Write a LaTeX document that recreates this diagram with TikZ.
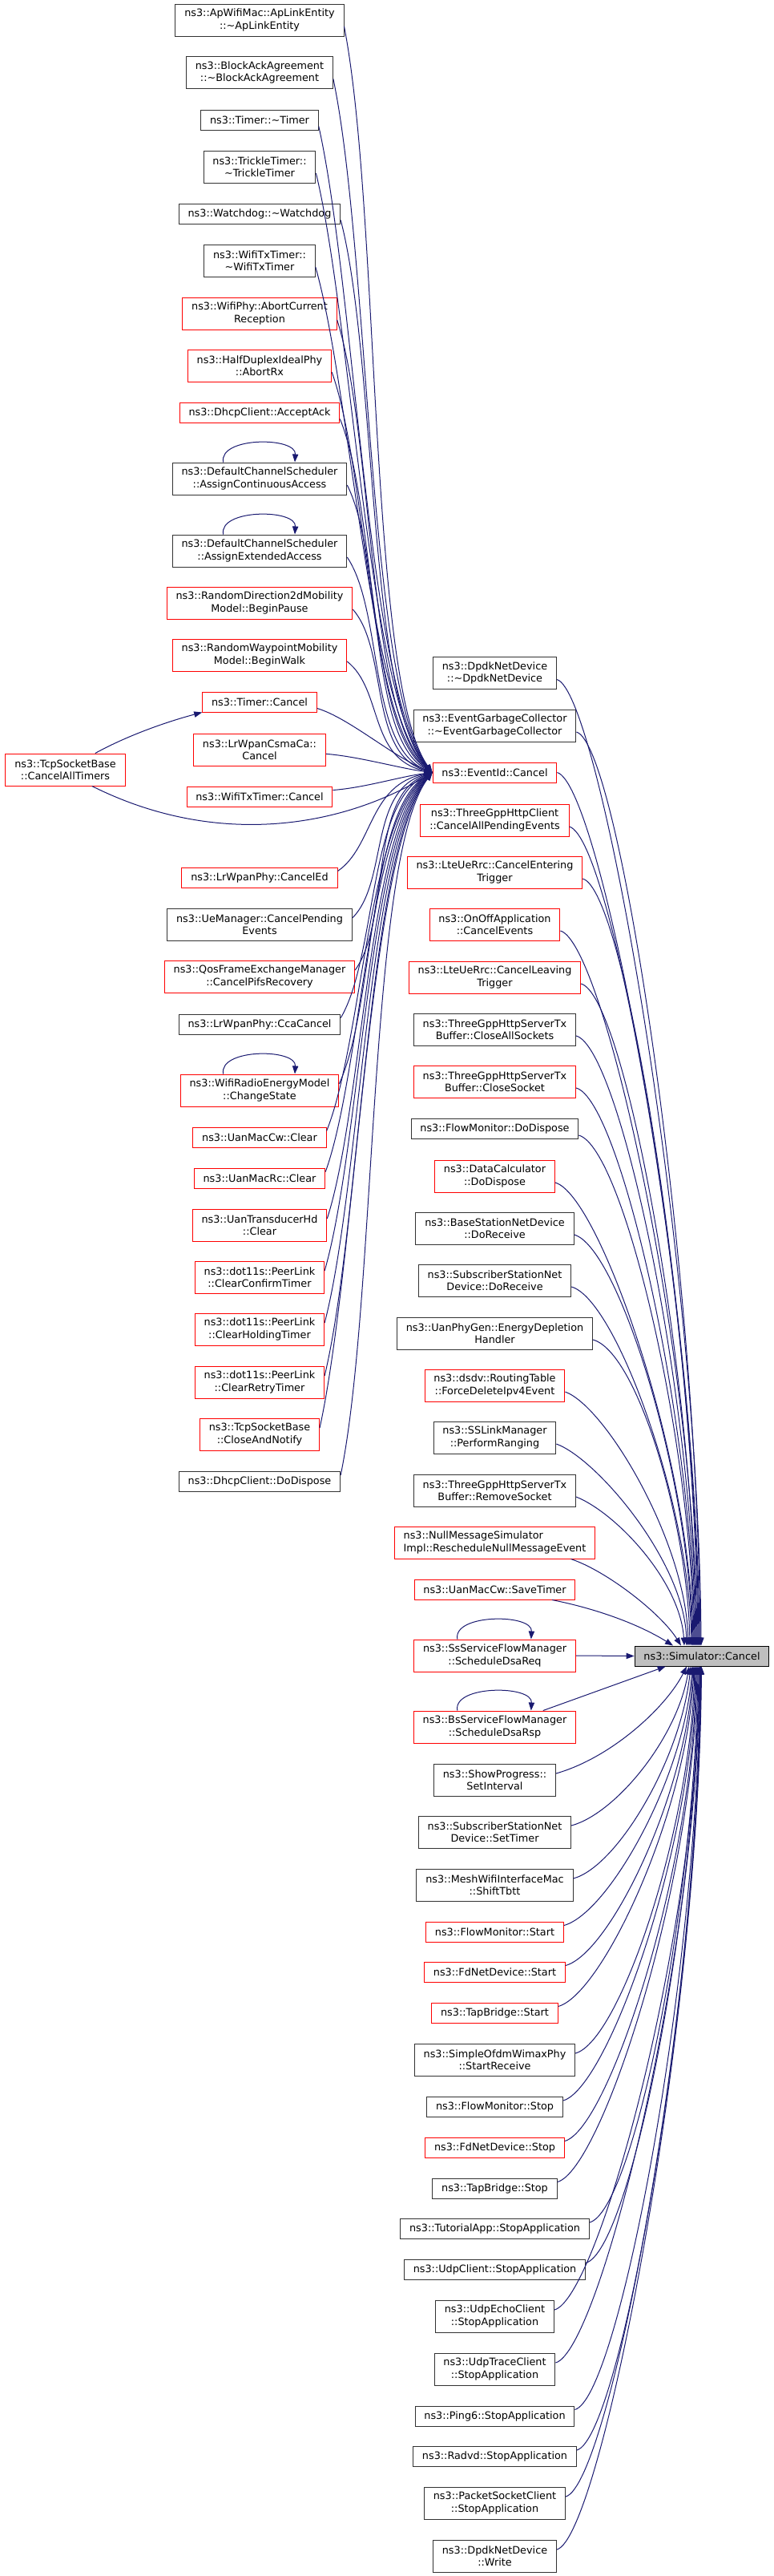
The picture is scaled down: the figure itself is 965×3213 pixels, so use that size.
\documentclass[tikz,border=0pt]{standalone}
\usepackage{fontspec}
\setmainfont{DejaVu Sans}
\usetikzlibrary{arrows.meta}
\definecolor{edgeblue}{HTML}{191970}
\definecolor{rootgray}{HTML}{BFBFBF}
\tikzset{
    fn/.style={draw=black!80, line width=0.75pt, fill=white, inner xsep=8.5pt, inner ysep=0pt,
        minimum height=18.75pt, align=center, font=\fontsize{9.6pt}{11.5pt}\selectfont},
    twoline/.style={minimum height=30pt},
    trunc/.style={draw=red},
    root/.style={fill=rootgray, draw=black},
    calls/.style={draw=edgeblue, line width=0.75pt, -{Triangle[length=7.5pt,width=5.5pt]}}
}
\begin{document}
\begin{tikzpicture}[x=0.75pt, y=-0.75pt]
    \useasboundingbox (0,0) rectangle (965,3213);

    % Callers of EventId::Cancel
    \node[fn, twoline] (apl) at (324,25) {ns3::ApWifiMac::ApLinkEntity\\::\textasciitilde ApLinkEntity};
    \node[fn, twoline] (baa) at (324,90.5) {ns3::BlockAckAgreement\\::\textasciitilde BlockAckAgreement};
    \node[fn] (tmd) at (324,149.5) {ns3::Timer::\textasciitilde Timer};
    \node[fn, twoline] (ttd) at (324,208) {ns3::TrickleTimer::\\\textasciitilde TrickleTimer};
    \node[fn] (wdd) at (324,266.5) {ns3::Watchdog::\textasciitilde Watchdog};
    \node[fn, twoline] (wtd) at (324,325) {ns3::WifiTxTimer::\\\textasciitilde WifiTxTimer};
    \node[fn, twoline, trunc] (wpa) at (324,391) {ns3::WifiPhy::AbortCurrent\\Reception};
    \node[fn, twoline, trunc] (hda) at (324,456) {ns3::HalfDuplexIdealPhy\\::AbortRx};
    \node[fn, trunc] (dca) at (324,514.5) {ns3::DhcpClient::AcceptAck};
    \node[fn, twoline] (aca) at (324,597) {ns3::DefaultChannelScheduler\\::AssignContinuousAccess};
    \node[fn, twoline] (aea) at (324,687) {ns3::DefaultChannelScheduler\\::AssignExtendedAccess};
    \node[fn, twoline, trunc] (rdp) at (324,752) {ns3::RandomDirection2dMobility\\Model::BeginPause};
    \node[fn, twoline, trunc] (rwp) at (324,817) {ns3::RandomWaypointMobility\\Model::BeginWalk};
    \node[fn, trunc] (tmc) at (324,875.5) {ns3::Timer::Cancel};
    \node[fn, twoline, trunc] (lcc) at (324,935) {ns3::LrWpanCsmaCa::\\Cancel};
    \node[fn, trunc] (wtc) at (324,993.5) {ns3::WifiTxTimer::Cancel};
    \node[fn, twoline, trunc] (tca) at (81.5,960) {ns3::TcpSocketBase\\::CancelAllTimers};
    \node[fn, trunc] (lce) at (324,1094.5) {ns3::LrWpanPhy::CancelEd};
    \node[fn, twoline] (ucp) at (324,1153) {ns3::UeManager::CancelPending\\Events};
    \node[fn, twoline, trunc] (qfe) at (324,1218) {ns3::QosFrameExchangeManager\\::CancelPifsRecovery};
    \node[fn] (lcca) at (324,1277.5) {ns3::LrWpanPhy::CcaCancel};
    \node[fn, twoline, trunc] (wre) at (324,1360) {ns3::WifiRadioEnergyModel\\::ChangeState};
    \node[fn, trunc] (ucc) at (324,1418.5) {ns3::UanMacCw::Clear};
    \node[fn, trunc] (urc) at (324,1469.5) {ns3::UanMacRc::Clear};
    \node[fn, twoline, trunc] (uth) at (324,1528) {ns3::UanTransducerHd\\::Clear};
    \node[fn, twoline, trunc] (pcc) at (324,1593) {ns3::dot11s::PeerLink\\::ClearConfirmTimer};
    \node[fn, twoline, trunc] (pch) at (324,1658) {ns3::dot11s::PeerLink\\::ClearHoldingTimer};
    \node[fn, twoline, trunc] (pcr) at (324,1724) {ns3::dot11s::PeerLink\\::ClearRetryTimer};
    \node[fn, twoline, trunc] (tcn) at (324,1789) {ns3::TcpSocketBase\\::CloseAndNotify};
    \node[fn] (dcd) at (324,1848) {ns3::DhcpClient::DoDispose};

    % Callers of Simulator::Cancel
    \node[fn, twoline] (dnd) at (617.5,839.5) {ns3::DpdkNetDevice\\::\textasciitilde DpdkNetDevice};
    \node[fn, twoline] (egc) at (617.5,905) {ns3::EventGarbageCollector\\::\textasciitilde EventGarbageCollector};
    \node[fn, trunc] (ec) at (617.5,963.5) {ns3::EventId::Cancel};
    \node[fn, twoline, trunc] (tgc) at (617.5,1023) {ns3::ThreeGppHttpClient\\::CancelAllPendingEvents};
    \node[fn, twoline, trunc] (lue) at (617.5,1088) {ns3::LteUeRrc::CancelEntering\\Trigger};
    \node[fn, twoline, trunc] (ooa) at (617.5,1153) {ns3::OnOffApplication\\::CancelEvents};
    \node[fn, twoline, trunc] (lul) at (617.5,1219) {ns3::LteUeRrc::CancelLeaving\\Trigger};
    \node[fn, twoline] (sas) at (617.5,1284) {ns3::ThreeGppHttpServerTx\\Buffer::CloseAllSockets};
    \node[fn, twoline, trunc] (scs) at (617.5,1349) {ns3::ThreeGppHttpServerTx\\Buffer::CloseSocket};
    \node[fn] (fmd) at (617.5,1408) {ns3::FlowMonitor::DoDispose};
    \node[fn, twoline, trunc] (dcdd) at (617.5,1467) {ns3::DataCalculator\\::DoDispose};
    \node[fn, twoline] (bsr) at (617.5,1532) {ns3::BaseStationNetDevice\\::DoReceive};
    \node[fn, twoline] (ssr) at (617.5,1597) {ns3::SubscriberStationNet\\Device::DoReceive};
    \node[fn, twoline] (upg) at (617.5,1663) {ns3::UanPhyGen::EnergyDepletion\\Handler};
    \node[fn, twoline, trunc] (dsd) at (617.5,1728) {ns3::dsdv::RoutingTable\\::ForceDeleteIpv4Event};
    \node[fn, twoline] (slm) at (617.5,1793) {ns3::SSLinkManager\\::PerformRanging};
    \node[fn, twoline] (srs) at (617.5,1859) {ns3::ThreeGppHttpServerTx\\Buffer::RemoveSocket};
    \node[fn, twoline, trunc, align=left] (nms) at (617.5,1924) {ns3::NullMessageSimulator\\Impl::RescheduleNullMessageEvent};
    \node[fn, trunc] (ust) at (617.5,1982.5) {ns3::UanMacCw::SaveTimer};
    \node[fn, twoline, trunc] (sdq) at (617.5,2065) {ns3::SsServiceFlowManager\\::ScheduleDsaReq};
    \node[fn, twoline, trunc] (bdr) at (617.5,2154) {ns3::BsServiceFlowManager\\::ScheduleDsaRsp};
    \node[fn, twoline] (spi) at (617.5,2220) {ns3::ShowProgress::\\SetInterval};
    \node[fn, twoline] (sst) at (617.5,2285) {ns3::SubscriberStationNet\\Device::SetTimer};
    \node[fn, twoline] (mst) at (617.5,2351) {ns3::MeshWifiInterfaceMac\\::ShiftTbtt};
    \node[fn, trunc] (fms) at (617.5,2409.5) {ns3::FlowMonitor::Start};
    \node[fn, trunc] (fds) at (617.5,2459.5) {ns3::FdNetDevice::Start};
    \node[fn, trunc] (tbs) at (617.5,2510.5) {ns3::TapBridge::Start};
    \node[fn, twoline] (sor) at (617.5,2569) {ns3::SimpleOfdmWimaxPhy\\::StartReceive};
    \node[fn] (fmt) at (617.5,2628) {ns3::FlowMonitor::Stop};
    \node[fn, trunc] (fdt) at (617.5,2678.5) {ns3::FdNetDevice::Stop};
    \node[fn] (tbt) at (617.5,2729.5) {ns3::TapBridge::Stop};
    \node[fn] (tas) at (617.5,2780) {ns3::TutorialApp::StopApplication};
    \node[fn] (ucs) at (617.5,2830.5) {ns3::UdpClient::StopApplication};
    \node[fn, twoline] (ues) at (617.5,2889) {ns3::UdpEchoClient\\::StopApplication};
    \node[fn, twoline] (uts) at (617.5,2955) {ns3::UdpTraceClient\\::StopApplication};
    \node[fn] (p6s) at (617.5,3013.5) {ns3::Ping6::StopApplication};
    \node[fn] (rds) at (617.5,3064) {ns3::Radvd::StopApplication};
    \node[fn, twoline] (pss) at (617.5,3122) {ns3::PacketSocketClient\\::StopApplication};
    \node[fn, twoline] (dnw) at (617.5,3188) {ns3::DpdkNetDevice\\::Write};

    % Root
    \node[fn, root] (sc) at (876,2065.5) {ns3::Simulator::Cancel};

    % Self calls
    \draw[calls] ([xshift=-34pt]aca.north) .. controls +(-6,-32) and +(2,-32) .. ([xshift=33pt]aca.north);
    \draw[calls] ([xshift=-34pt]aea.north) .. controls +(-6,-32) and +(2,-32) .. ([xshift=33pt]aea.north);
    \draw[calls] ([xshift=-34pt]wre.north) .. controls +(-6,-32) and +(2,-32) .. ([xshift=33pt]wre.north);
    \draw[calls] ([xshift=-35pt]sdq.north) .. controls +(-6,-32) and +(2,-32) .. ([xshift=34pt]sdq.north);
    \draw[calls] ([xshift=-35pt]bdr.north) .. controls +(-6,-32) and +(2,-32) .. ([xshift=34pt]bdr.north);

    % TcpSocketBase::CancelAllTimers
    \draw[calls] ([xshift=28pt]tca.north) .. controls +(40,-22) and +(-45,12) .. (tmc.south west);
    \draw[calls] ([xshift=25pt]tca.south) .. controls +(150,75) and +(-120,72) .. (ec.west);

    % Into EventId::Cancel
    \draw[calls] ([yshift=-6pt]apl.east) .. controls +(45,232) and +(-80,-112) .. (ec.west);
    \draw[calls] ([yshift=-6pt]baa.east) .. controls +(45,216) and +(-80,-104) .. (ec.west);
    \draw[calls] ([yshift=-6pt]tmd.east) .. controls +(45,200) and +(-80,-97) .. (ec.west);
    \draw[calls] ([yshift=-6pt]ttd.east) .. controls +(45,187) and +(-80,-90) .. (ec.west);
    \draw[calls] ([yshift=-6pt]wdd.east) .. controls +(45,172) and +(-80,-83) .. (ec.west);
    \draw[calls] ([yshift=-6pt]wtd.east) .. controls +(45,158) and +(-80,-76) .. (ec.west);
    \draw[calls] ([yshift=-6pt]wpa.east) .. controls +(45,141) and +(-80,-68) .. (ec.west);
    \draw[calls] ([yshift=-6pt]hda.east) .. controls +(45,125) and +(-80,-60) .. (ec.west);
    \draw[calls] ([yshift=-6pt]dca.east) .. controls +(45,110) and +(-80,-53) .. (ec.west);
    \draw[calls] ([yshift=-6pt]aca.east) .. controls +(45,90) and +(-80,-43) .. (ec.west);
    \draw[calls] ([yshift=-6pt]aea.east) .. controls +(45,67) and +(-80,-32) .. (ec.west);
    \draw[calls] ([yshift=-6pt]rdp.east) .. controls +(45,51) and +(-80,-24) .. (ec.west);
    \draw[calls] ([yshift=-6pt]rwp.east) .. controls +(45,35) and +(-80,-17) .. (ec.west);
    \draw[calls] ([yshift=-6pt]tmc.east) .. controls +(40,12) and +(-50,-20) .. (ec.west);
    \draw[calls] ([yshift=-4pt]lcc.east) .. controls +(40,3) and +(-40,-5) .. (ec.west);
    \draw[calls] ([yshift=6pt]wtc.east) .. controls +(40,-3) and +(-40,5) .. (ec.west);
    \draw[calls] ([yshift=6pt]lce.east) .. controls +(45,-31) and +(-80,15) .. (ec.west);
    \draw[calls] ([yshift=6pt]ucp.east) .. controls +(45,-45) and +(-80,22) .. (ec.west);
    \draw[calls] ([yshift=6pt]qfe.east) .. controls +(45,-62) and +(-80,30) .. (ec.west);
    \draw[calls] ([yshift=6pt]lcca.east) .. controls +(45,-77) and +(-80,37) .. (ec.west);
    \draw[calls] ([yshift=6pt]wre.east) .. controls +(45,-97) and +(-80,47) .. (ec.west);
    \draw[calls] ([yshift=6pt]ucc.east) .. controls +(45,-112) and +(-80,54) .. (ec.west);
    \draw[calls] ([yshift=6pt]urc.east) .. controls +(45,-125) and +(-80,60) .. (ec.west);
    \draw[calls] ([yshift=6pt]uth.east) .. controls +(45,-139) and +(-80,67) .. (ec.west);
    \draw[calls] ([yshift=6pt]pcc.east) .. controls +(45,-155) and +(-80,75) .. (ec.west);
    \draw[calls] ([yshift=6pt]pch.east) .. controls +(45,-172) and +(-80,82) .. (ec.west);
    \draw[calls] ([yshift=6pt]pcr.east) .. controls +(45,-188) and +(-80,90) .. (ec.west);
    \draw[calls] ([yshift=6pt]tcn.east) .. controls +(45,-204) and +(-80,98) .. (ec.west);
    \draw[calls] ([yshift=6pt]dcd.east) .. controls +(45,-219) and +(-80,105) .. (ec.west);

    % Into Simulator::Cancel, from above
    \draw[calls] ([yshift=-6pt]dnd.east) .. controls +(55,15) and +(-3,-480) .. ([xshift=-0.75pt]sc.north);
    \draw[calls] ([yshift=-6pt]egc.east) .. controls +(55,15) and +(-3,-460) .. ([xshift=-1.5pt]sc.north);
    \draw[calls] (ec.east) .. controls +(55,15) and +(-3,-435) .. ([xshift=-2.25pt]sc.north);
    \draw[calls] ([yshift=-6pt]tgc.east) .. controls +(55,15) and +(-3,-410) .. ([xshift=-3pt]sc.north);
    \draw[calls] ([yshift=-6pt]lue.east) .. controls +(55,15) and +(-3,-385) .. ([xshift=-3.75pt]sc.north);
    \draw[calls] ([yshift=-6pt]ooa.east) .. controls +(55,15) and +(-3,-360) .. ([xshift=-4.5pt]sc.north);
    \draw[calls] ([yshift=-6pt]lul.east) .. controls +(55,15) and +(-3,-335) .. ([xshift=-5.25pt]sc.north);
    \draw[calls] ([yshift=-6pt]sas.east) .. controls +(55,15) and +(-3,-310) .. ([xshift=-6pt]sc.north);
    \draw[calls] ([yshift=-6pt]scs.east) .. controls +(55,15) and +(-3,-280) .. ([xshift=-6.75pt]sc.north);
    \draw[calls] ([yshift=-6pt]fmd.east) .. controls +(55,15) and +(-3,-260) .. ([xshift=-7.5pt]sc.north);
    \draw[calls] ([yshift=-6pt]dcdd.east) .. controls +(55,15) and +(-3,-235) .. ([xshift=-8.25pt]sc.north);
    \draw[calls] ([yshift=-6pt]bsr.east) .. controls +(55,15) and +(-3,-210) .. ([xshift=-9pt]sc.north);
    \draw[calls] ([yshift=-6pt]ssr.east) .. controls +(55,15) and +(-3,-180) .. ([xshift=-9.75pt]sc.north);
    \draw[calls] ([yshift=-6pt]upg.east) .. controls +(55,15) and +(-3,-155) .. ([xshift=-11.25pt]sc.north);
    \draw[calls] ([yshift=-6pt]dsd.east) .. controls +(50,18) and +(-3,-130) .. ([xshift=-12.75pt]sc.north);
    \draw[calls] ([yshift=-6pt]slm.east) .. controls +(50,18) and +(-3,-105) .. ([xshift=-14.25pt]sc.north);
    \draw[calls] ([yshift=-6pt]srs.east) .. controls +(50,20) and +(-5,-80) .. ([xshift=-16.5pt]sc.north);
    \draw[calls] ([xshift=-23pt]nms.south east) .. controls +(45,15) and +(-25,-40) .. ([xshift=-19.5pt]sc.north);
    \draw[calls] ([xshift=-22pt]ust.south east) .. controls +(60,12) and +(-40,-25) .. ([xshift=-27pt]sc.north);
    \draw[calls] (sdq.east) -- (sc.west);

    % Into Simulator::Cancel, from below
    \draw[calls] ([xshift=-31pt]bdr.north east) -- ([xshift=-34pt]sc.south);
    \draw[calls] ([yshift=6pt]spi.east) .. controls +(70,-20) and +(-25,50) .. ([xshift=-14.25pt]sc.south);
    \draw[calls] ([yshift=6pt]sst.east) .. controls +(55,-15) and +(-15,90) .. ([xshift=-12pt]sc.south);
    \draw[calls] ([yshift=6pt]mst.east) .. controls +(55,-15) and +(-12,115) .. ([xshift=-10.5pt]sc.south);
    \draw[calls] ([yshift=6pt]fms.east) .. controls +(55,-15) and +(-10,140) .. ([xshift=-9pt]sc.south);
    \draw[calls] ([yshift=6pt]fds.east) .. controls +(55,-15) and +(-8,160) .. ([xshift=-8.25pt]sc.south);
    \draw[calls] ([yshift=6pt]tbs.east) .. controls +(55,-15) and +(-7,180) .. ([xshift=-7.5pt]sc.south);
    \draw[calls] ([yshift=6pt]sor.east) .. controls +(55,-15) and +(-5,205) .. ([xshift=-6.75pt]sc.south);
    \draw[calls] ([yshift=6pt]fmt.east) .. controls +(55,-15) and +(-4,230) .. ([xshift=-6pt]sc.south);
    \draw[calls] ([yshift=6pt]fdt.east) .. controls +(55,-15) and +(-3,250) .. ([xshift=-5.25pt]sc.south);
    \draw[calls] ([yshift=6pt]tbt.east) .. controls +(55,-15) and +(-3,270) .. ([xshift=-4.5pt]sc.south);
    \draw[calls] ([yshift=6pt]tas.east) .. controls +(55,-15) and +(-3,290) .. ([xshift=-3.75pt]sc.south);
    \draw[calls] ([yshift=6pt]ucs.east) .. controls +(55,-15) and +(-3,310) .. ([xshift=-3pt]sc.south);
    \draw[calls] ([yshift=6pt]ues.east) .. controls +(55,-15) and +(-3,335) .. ([xshift=-2.25pt]sc.south);
    \draw[calls] ([yshift=6pt]uts.east) .. controls +(55,-15) and +(-3,360) .. ([xshift=-1.9pt]sc.south);
    \draw[calls] ([yshift=6pt]p6s.east) .. controls +(55,-15) and +(-3,385) .. ([xshift=-1.5pt]sc.south);
    \draw[calls] ([yshift=6pt]rds.east) .. controls +(55,-15) and +(-3,405) .. ([xshift=-1.1pt]sc.south);
    \draw[calls] ([yshift=6pt]pss.east) .. controls +(55,-15) and +(-3,430) .. ([xshift=-0.75pt]sc.south);
    \draw[calls] ([yshift=6pt]dnw.east) .. controls +(55,-15) and +(-3,455) .. ([xshift=-0.4pt]sc.south);
\end{tikzpicture}
\end{document}
